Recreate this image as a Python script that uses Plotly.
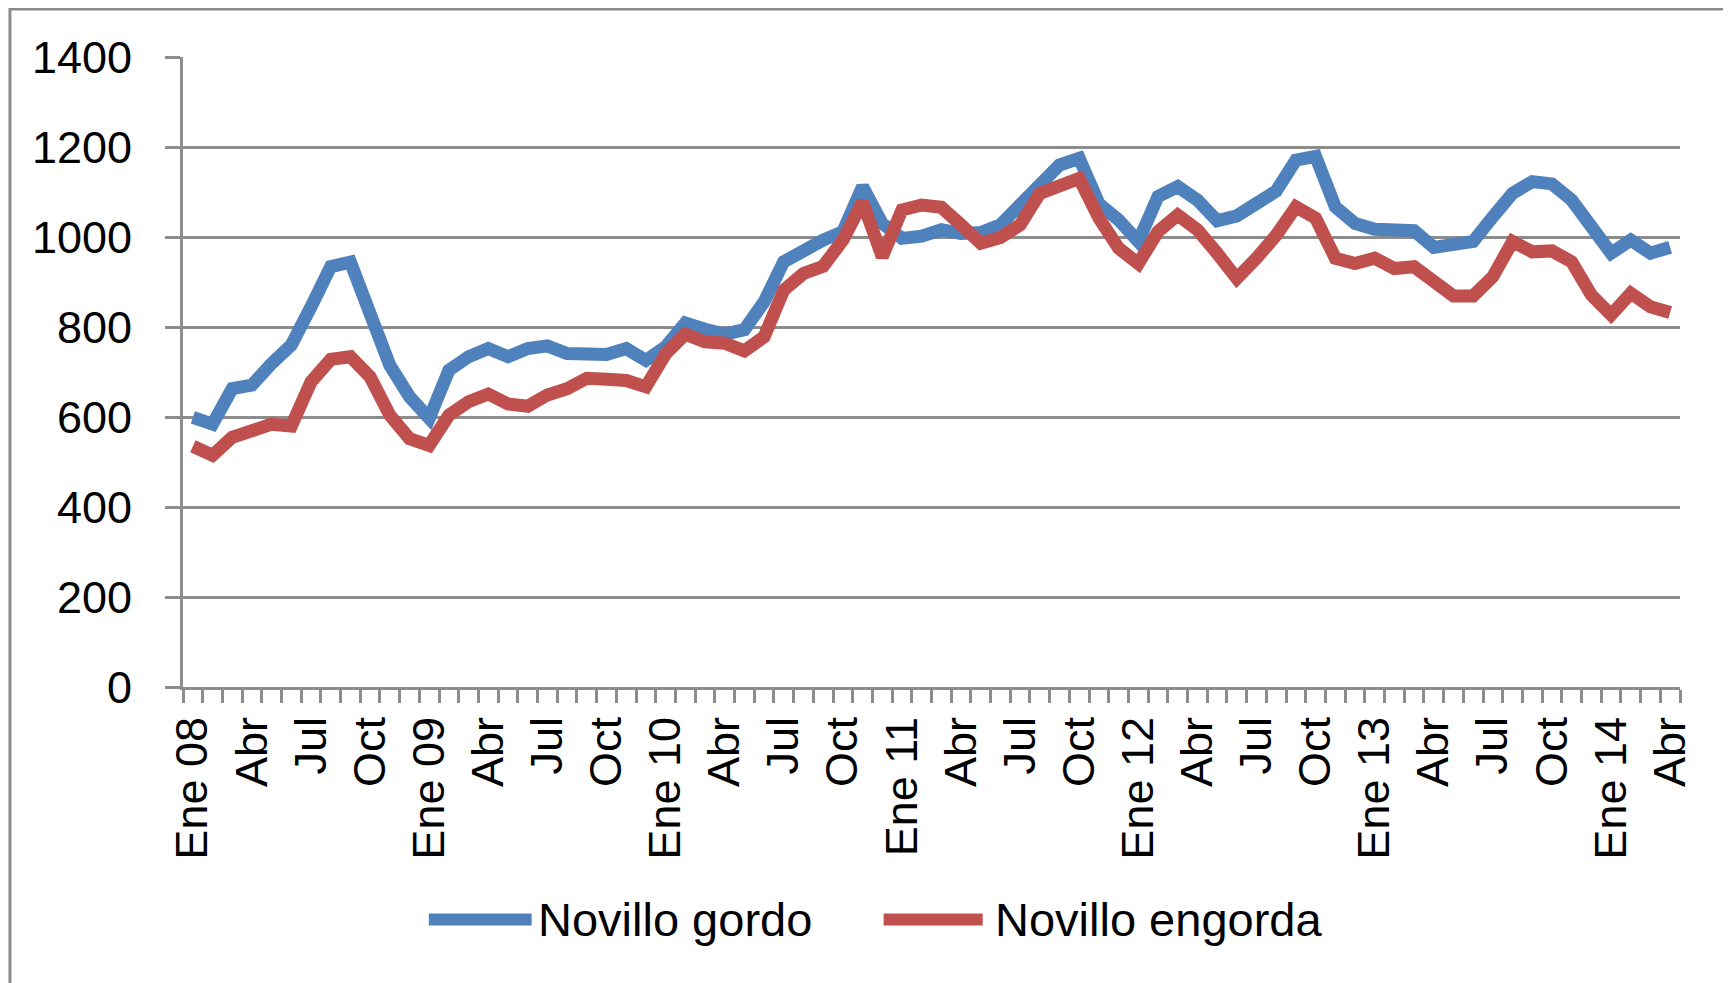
import plotly.graph_objects as go

# monthly prices, Ene 2008 - Abr 2014
month_names = ["Ene", "Feb", "Mar", "Abr", "May", "Jun",
               "Jul", "Ago", "Sep", "Oct", "Nov", "Dic"]
years = ["08", "09", "10", "11", "12", "13", "14"]

novillo_gordo = [599, 584, 663, 671, 719, 760, 845, 934, 944, 830, 715, 645,
                 597, 704, 734, 752, 734, 752, 758, 741, 742, 739, 752, 726,
                 756, 809, 795, 784, 794, 856, 945, 971, 993, 1012, 1112, 1030,
                 997, 1002, 1016, 1008, 1010, 1027, 1071, 1119, 1160, 1175, 1074, 1038,
                 990, 1090, 1112, 1082, 1036, 1047, 1078, 1102, 1171, 1179, 1067, 1030,
                 1017, 1017, 1014, 977, 986, 990, 1045, 1097, 1123, 1118, 1082, 1023,
                 964, 993, 964, 977]

novillo_engorda = [535, 515, 555, 572, 584, 580, 678, 728, 734, 689, 604, 552,
                   537, 604, 634, 651, 629, 624, 649, 663, 686, 684, 681, 667,
                   740, 784, 767, 764, 747, 778, 882, 919, 935, 993, 1078, 956,
                   1060, 1071, 1066, 1027, 986, 999, 1027, 1097, 1116, 1130, 1042, 975,
                   941, 1012, 1049, 1016, 964, 908, 953, 1004, 1067, 1042, 953, 941,
                   953, 930, 934, 901, 869, 869, 912, 990, 967, 969, 945, 871,
                   827, 875, 845, 832]

months = [m + " " + y for y in years for m in month_names][:len(novillo_gordo)]
x = list(range(len(months)))

tick_vals = x[::3]
tick_text = [months[i] if months[i].startswith("Ene") else months[i][:3] for i in tick_vals]

BLUE = "#4F81BD"
RED = "#C0504D"
GRAY = "#8C8C8C"
FONT = "Liberation Sans"

fig = go.Figure()
fig.add_trace(go.Scatter(x=x, y=novillo_gordo, name="Novillo gordo", mode="lines",
                         line=dict(color=BLUE, width=13)))
fig.add_trace(go.Scatter(x=x, y=novillo_engorda, name="Novillo engorda", mode="lines",
                         line=dict(color=RED, width=13)))

# page body has an 8px margin, so the figure is a bit smaller than the window
fig.update_layout(
    width=1723, height=975,
    margin=dict(l=175, r=51, t=49, b=296),
    paper_bgcolor="white", plot_bgcolor="white",
    showlegend=False,
    font=dict(family=FONT, size=45, color="black"),
)

fig.update_xaxes(
    range=[-0.5, len(x) - 0.5],
    tickmode="array", tickvals=tick_vals, ticktext=tick_text,
    tickangle=-90, ticks="", ticklabelstandoff=9,
    showgrid=False, zeroline=False,
    showline=True, linecolor=GRAY, linewidth=3,
    minor=dict(ticks="outside", tick0=-0.5, dtick=1, ticklen=13,
               tickwidth=3, tickcolor=GRAY, showgrid=False),
)
fig.update_yaxes(
    range=[0, 1400], dtick=200,
    ticks="outside", ticklen=15, tickwidth=3, tickcolor=GRAY,
    ticklabelstandoff=24,
    showgrid=True, gridcolor=GRAY, gridwidth=3,
    zeroline=False, showline=True, linecolor=GRAY, linewidth=3,
)

# chart frame
fig.add_shape(type="rect", xref="paper", yref="paper",
              x0=-0.1156, x1=1.0334, y0=-0.49, y1=1.0762,
              line=dict(color=GRAY, width=3), layer="below")

# legend drawn by hand so the sample lines are as long as in the original
legend_items = [("Novillo gordo", BLUE, 0.1642, 0.2329, 0.2357),
                ("Novillo engorda", RED, 0.4680, 0.5342, 0.5410)]
for label, color, lx0, lx1, tx in legend_items:
    fig.add_shape(type="line", xref="paper", yref="paper",
                  x0=lx0, x1=lx1, y0=-0.369, y1=-0.369,
                  line=dict(color=color, width=12))
    fig.add_annotation(text=label, xref="paper", yref="paper",
                       x=tx, y=-0.369, xanchor="left", yanchor="middle",
                       showarrow=False, font=dict(family=FONT, size=47, color="black"))

fig.write_html("out.html")
